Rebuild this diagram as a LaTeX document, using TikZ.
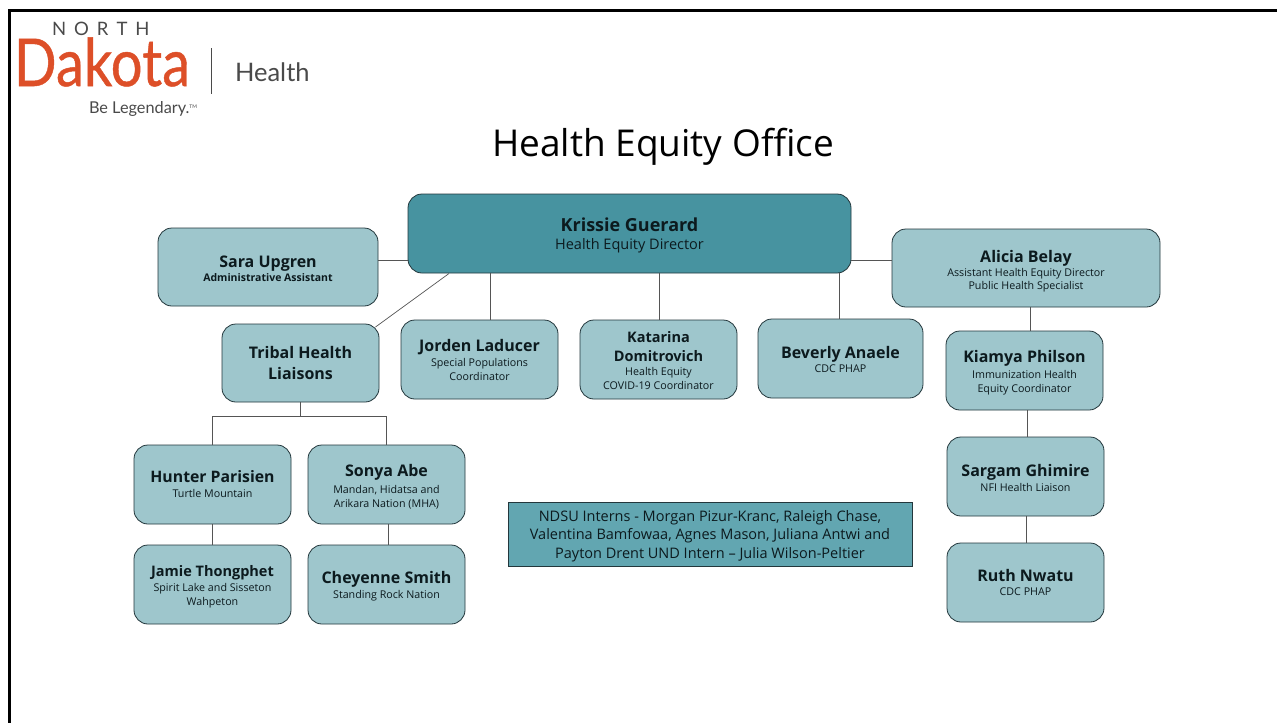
\documentclass[tikz,border=0pt]{standalone}
\usepackage{fontspec}
\setmainfont{Open Sans}
\newfontfamily\logofont{Lato}
\newfontfamily\dakfont[FakeBold=0.7]{Lato}
\definecolor{boxfill}{HTML}{9EC6CC}
\definecolor{topfill}{HTML}{4793A0}
\definecolor{internfill}{HTML}{62A6B1}
\definecolor{boxline}{HTML}{23373C}
\definecolor{linkline}{HTML}{555555}
\definecolor{txt}{HTML}{0C1A1E}
\definecolor{dakota}{HTML}{DD4F28}
\definecolor{logogray}{HTML}{4A4A4A}
\newcommand{\blk}[3]{{\fontsize{#1}{#2}\selectfont\begin{tabular}[t]{@{}c@{}}#3\end{tabular}}}
% name line: size, height of the first line, text
\newcommand{\nm}[3][16]{\rule{0pt}{#2pt}{\fontsize{#1}{#1}\selectfont\bfseries #3}}
\newcommand{\sm}[1]{\blk{10.7}{13.7}{#1}}
\tikzset{
  x=1pt,y=-1pt,
  orgbox/.style={draw=boxline,line width=0.8pt,fill=boxfill,rounded corners=14pt,align=center,
    inner sep=0pt,outer sep=0pt,text=txt},
  link/.style={draw=linkline,line width=0.9pt},
  logotext/.style={inner sep=0pt,outer sep=0pt,font=\logofont}
}
\begin{document}
\begin{tikzpicture}
\useasboundingbox (0,0) rectangle (1277,723);
\fill[white] (0,0) rectangle (1277,723);
\coordinate (frameA) at (1277,10.5);
\coordinate (frameB) at (9.5,10.5);
\coordinate (frameC) at (9.5,723);
\draw[black,line width=2.6pt] (frameA) -- (frameB) -- (frameC);
% logo
\node[logotext,text=logogray,anchor=west] (north) at (52,29) {\fontsize{18.5}{19}\selectfont N\hspace{8pt}O\hspace{8pt}R\hspace{8pt}T\hspace{8pt}H};
\node[logotext,font=\dakfont,text=dakota,anchor=west,xscale=0.85] (dak) at (14,62) {\fontsize{66}{66}\selectfont Dakota};
\node[logotext,text=logogray,anchor=west] (hlth) at (235,72) {\fontsize{25.5}{27}\selectfont Health};
\node[logotext,text=logogray,anchor=west] (legend) at (89,109) {\fontsize{16.3}{16.5}\selectfont Be Legendary.\raisebox{5pt}{\fontsize{5}{5}\selectfont TM}};
\coordinate (barA) at (211,48);
\coordinate (barB) at (211,94);
\draw[logogray,line width=1pt] (barA) -- (barB);
% title
\node[inner sep=0pt,text=black] (title) at (663,147) {\fontsize{37}{37}\selectfont Health Equity Office};
% boxes
\node[orgbox,fill=topfill,minimum width=443pt,minimum height=79pt] (krissie) at (629.5,233.5) {\nm[18]{18}{Krissie Guerard}\\[6pt]{\fontsize{14.5}{14.5}\selectfont Health Equity Director}};
\node[orgbox,minimum width=220pt,minimum height=78pt] (sara) at (268,267) {\nm{16}{Sara Upgren}\\[2pt]{\fontsize{10.5}{10.5}\selectfont\bfseries Administrative Assistant}};
\node[orgbox,minimum width=268pt,minimum height=78pt] (alicia) at (1026,268) {\nm{20.5}{Alicia Belay}\\[-1pt]\sm{Assistant Health Equity Director\\Public Health Specialist}};
\node[orgbox,minimum width=157pt,minimum height=78pt] (tribal) at (300.5,363) {\rule{0pt}{19pt}\blk{16}{21}{\bfseries Tribal Health\\\bfseries Liaisons}};
\node[orgbox,minimum width=157pt,minimum height=79pt] (jorden) at (479.5,359.5) {\nm{16.5}{Jorden Laducer}\\[1.5pt]\sm{Special Populations\\Coordinator}};
\node[orgbox,minimum width=157pt,minimum height=79pt] (katarina) at (658.5,359.5) {\rule{0pt}{17.3pt}\blk{14.5}{19}{\bfseries Katarina\\\bfseries Domitrovich}\\[-2pt]\sm{Health Equity\\COVID-19 Coordinator}};
\node[orgbox,minimum width=165pt,minimum height=79pt] (beverly) at (840.5,358.5) {\nm{18}{Beverly Anaele}\\[-1pt]\sm{CDC PHAP}};
\node[orgbox,minimum width=157pt,minimum height=79pt] (kiamya) at (1024.5,370.5) {\nm{18}{Kiamya Philson}\\[1pt]\sm{Immunization Health\\Equity Coordinator}};
\node[orgbox,minimum width=157pt,minimum height=79pt] (sargam) at (1025.5,476.5) {\nm{19}{Sargam Ghimire}\\[0pt]\sm{NFI Health Liaison}};
\node[orgbox,minimum width=157pt,minimum height=79pt] (ruth) at (1025.5,582.5) {\nm{17}{Ruth Nwatu}\\[2pt]\sm{CDC PHAP}};
\node[orgbox,minimum width=157pt,minimum height=79pt] (hunter) at (212.5,484.5) {\nm[15.8]{16}{Hunter Parisien}\\[3pt]\sm{Turtle Mountain}};
\node[orgbox,minimum width=157pt,minimum height=79pt] (sonya) at (386.5,484.5) {\nm{19}{Sonya Abe}\\[2pt]\sm{Mandan, Hidatsa and\\Arikara Nation (MHA)}};
\node[orgbox,minimum width=157pt,minimum height=79pt] (jamie) at (212.5,584.5) {\nm[14.5]{16.5}{Jamie Thongphet}\\[1pt]\sm{Spirit Lake and Sisseton\\Wahpeton}};
\node[orgbox,minimum width=157pt,minimum height=79pt] (cheyenne) at (386.5,584.5) {\nm{17}{Cheyenne Smith}\\[0pt]\sm{Standing Rock Nation}};
\node[draw=boxline,line width=0.8pt,fill=internfill,minimum width=404pt,minimum height=64pt,inner sep=0pt,outer sep=0pt,align=center,text=txt] (interns) at (710,534) {\rule{0pt}{17pt}\blk{14.5}{18.3}{NDSU Interns - Morgan Pizur-Kranc, Raleigh Chase,\\Valentina Bamfowaa, Agnes Mason, Juliana Antwi and\\Payton Drent UND Intern -- Julia Wilson-Peltier}};
% connectors
\draw[link] (sara.east |- 0,260) -- (krissie.west |- 0,260);
\draw[link] (krissie.east |- 0,260) -- (alicia.west |- 0,260);
\draw[link] (490,0 |- krissie.south) -- (490,0 |- jorden.north);
\draw[link] (659,0 |- krissie.south) -- (659,0 |- katarina.north);
\draw[link] (839,0 |- krissie.south) -- (839,0 |- beverly.north);
\coordinate (diagA) at (449,273.5);
\coordinate (diagB) at (375.5,327);
\draw[link,line width=0.7pt] (diagA) -- (diagB);
\coordinate (busL) at (212.5,416);
\coordinate (busR) at (386.5,416);
\draw[link] (tribal.south) -- (tribal.south |- busL);
\draw[link] (hunter.north) -- (busL) -- (busR) -- (sonya.north);
\draw[link] (hunter.south) -- (jamie.north);
\draw[link] (388,0 |- sonya.south) -- (388,0 |- cheyenne.north);
\draw[link] (1030,0 |- alicia.south) -- (1030,0 |- kiamya.north);
\draw[link] (1027,0 |- kiamya.south) -- (1027,0 |- sargam.north);
\draw[link] (1026,0 |- sargam.south) -- (1026,0 |- ruth.north);
\end{tikzpicture}
\end{document}
